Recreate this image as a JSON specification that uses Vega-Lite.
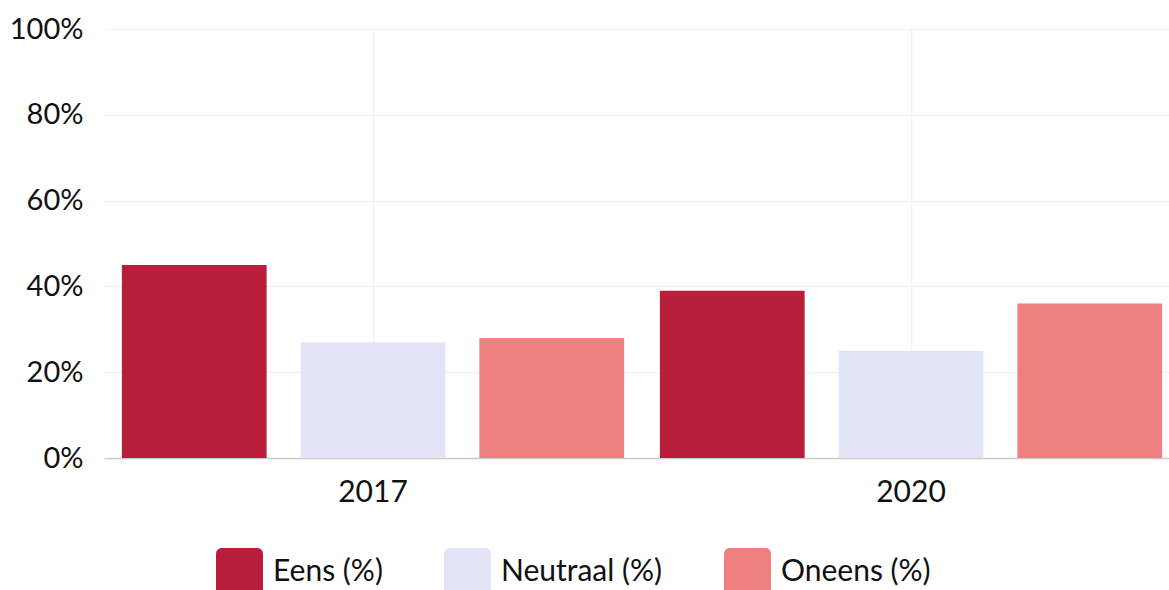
{
  "$schema": "https://vega.github.io/schema/vega-lite/v6.json",
  "autosize": {"type": "none"},
  "padding": {"left": 104, "top": 29, "right": 0, "bottom": 132},
  "width": 1076,
  "height": 429,
  "background": "white",
  "config": {
    "font": "Lato",
    "view": {"stroke": null},
    "axis": {"labelFont": "Lato", "labelColor": "#111", "gridColor": "#f3f3f3", "gridWidth": 1.5}
  },
  "data": {
    "values": [
      {"year": "2017", "cat": "Eens (%)", "value": 45},
      {"year": "2017", "cat": "Neutraal (%)", "value": 27},
      {"year": "2017", "cat": "Oneens (%)", "value": 28},
      {"year": "2020", "cat": "Eens (%)", "value": 39},
      {"year": "2020", "cat": "Neutraal (%)", "value": 25},
      {"year": "2020", "cat": "Oneens (%)", "value": 36}
    ]
  },
  "mark": {"type": "bar"},
  "encoding": {
    "x": {
      "field": "year", "type": "nominal",
      "scale": {"paddingInner": 0, "paddingOuter": 0},
      "axis": {"title": null, "labelAngle": 0, "labelFontSize": 30, "labelPadding": 19, "ticks": false, "domainColor": "#cccccc", "domainWidth": 1.5, "grid": true, "bandPosition": 0.5}
    },
    "xOffset": {
      "field": "cat", "type": "nominal",
      "scale": {"paddingInner": 0.19, "paddingOuter": 0.1}
    },
    "y": {
      "field": "value", "type": "quantitative",
      "scale": {"domain": [0, 100]},
      "axis": {"title": null, "values": [0, 20, 40, 60, 80, 100], "labelExpr": "datum.value + '%'", "labelFontSize": 29, "labelPadding": 21, "ticks": false, "domain": false, "grid": true}
    },
    "color": {
      "field": "cat", "type": "nominal",
      "scale": {"domain": ["Eens (%)", "Neutraal (%)", "Oneens (%)"], "range": ["#b71f3a", "#e4e4f7", "#f08080"]},
      "legend": {
        "title": null,
        "orient": "none",
        "direction": "horizontal",
        "legendX": 112,
        "legendY": 519,
        "symbolType": "M -0.75,-1 L 0.75,-1 A 0.25,0.25 0 0 1 1,-0.75 L 1,0.75 A 0.25,0.25 0 0 1 0.75,1 L -0.75,1 A 0.25,0.25 0 0 1 -1,0.75 L -1,-0.75 A 0.25,0.25 0 0 1 -0.75,-1 Z",
        "symbolSize": 2209,
        "symbolStrokeWidth": 0,
        "symbolOpacity": 1,
        "labelFontSize": 30,
        "labelColor": "#111",
        "labelOffset": 10,
        "columnPadding": 61,
        "labelLimit": 300
      }
    }
  }
}
